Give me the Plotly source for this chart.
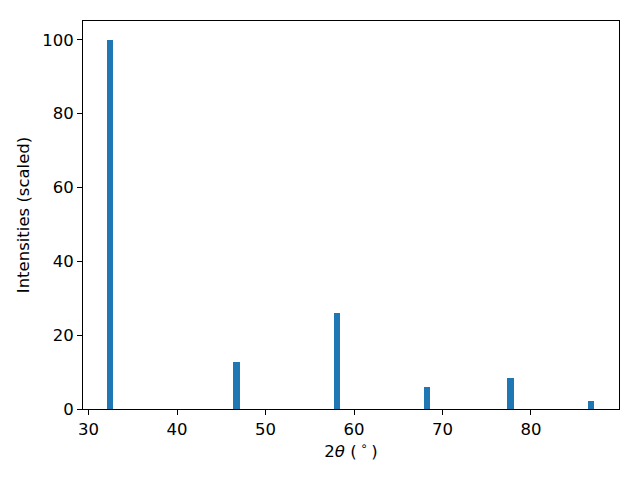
import plotly.graph_objects as go

two_theta = [32.45, 46.73, 58.1, 68.22, 77.67, 86.78]
intensity = [100, 12.6, 26.1, 6.0, 8.4, 2.2]
bar_width = 0.72

fig = go.Figure()
fig.add_trace(go.Bar(x=two_theta, y=intensity, width=bar_width,
                     marker=dict(color="#1f77b4", line=dict(width=0))))

font = dict(family="DejaVu Sans", size=16.5, color="black")
# page body has an 8px default margin, so the figure is 8px smaller
fig.update_layout(
    width=632, height=472,
    margin=dict(l=75, r=21, t=13, b=71),
    plot_bgcolor="white", paper_bgcolor="white",
    font=font, showlegend=False, bargap=0,
)
fig.update_xaxes(range=[29.37, 89.95], tickvals=[30, 40, 50, 60, 70, 80],
                 showline=True, linecolor="black", linewidth=1.1, mirror=True,
                 ticks="outside", ticklen=5, tickwidth=1.1, tickcolor="black",
                 showgrid=False, zeroline=False, automargin=False,
                 title=dict(text="2<i>θ</i> (<sup> ∘ </sup>)", standoff=6, font=font))
fig.update_yaxes(range=[0, 105.1], tickvals=[0, 20, 40, 60, 80, 100],
                 showline=True, linecolor="black", linewidth=1.1, mirror=True,
                 ticks="outside", ticklen=5, tickwidth=1.1, tickcolor="black",
                 showgrid=False, zeroline=False, automargin=False,
                 title=dict(text="Intensities (scaled)", standoff=8, font=font))
fig.write_html("out.html")
